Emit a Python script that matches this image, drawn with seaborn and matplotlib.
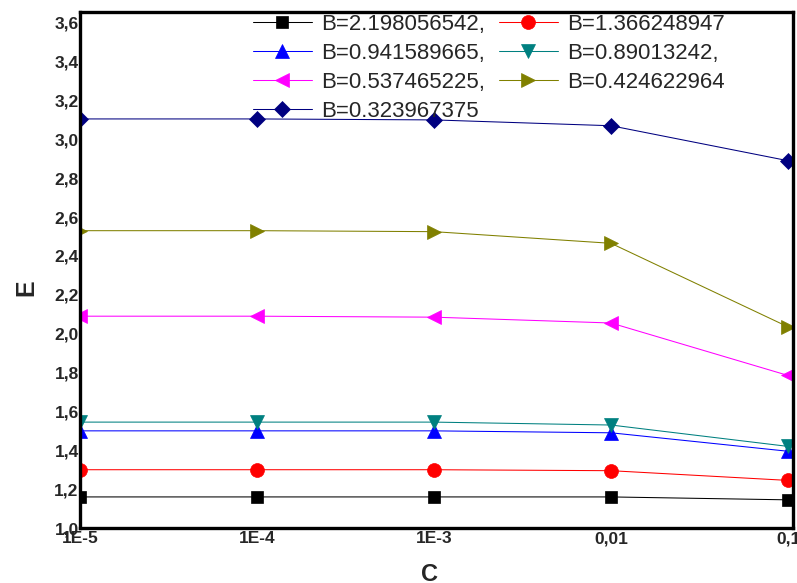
import numpy as np
import pandas as pd
import matplotlib
matplotlib.use("Agg")
import matplotlib.pyplot as plt
import seaborn as sns

# data
c_values = [1e-5, 1e-4, 1e-3, 1e-2, 1e-1]
c_labels = ["1E-5", "1E-4", "1E-3", "0,01", "0,1"]
b_labels = ["B=2.198056542,", "B=1.366248947", "B=0.941589665,", "B=0.89013242,",
            "B=0.537465225,", "B=0.424622964", "B=0.323967375"]
e_b1 = [1.16, 1.16, 1.16, 1.16, 1.145]
e_b2 = [1.30, 1.30, 1.30, 1.295, 1.245]
e_b3 = [1.50, 1.50, 1.50, 1.49, 1.395]
e_b4 = [1.545, 1.545, 1.545, 1.53, 1.42]
e_b5 = [2.09, 2.09, 2.085, 2.055, 1.785]
e_b6 = [2.53, 2.53, 2.525, 2.465, 2.035]
e_b7 = [3.105, 3.105, 3.10, 3.07, 2.89]
series = [e_b1, e_b2, e_b3, e_b4, e_b5, e_b6, e_b7]

colors = ["#000000", "#ff0000", "#0000ff", "#008080", "#ff00ff", "#808000", "#000080"]
markers = ["s", "o", "^", "v", "<", ">", "D"]
msizes = [9, 10, 10, 10, 10, 10, 8.5]

sns.set_style("white")
plt.rcParams["font.family"] = ["Liberation Sans", "DejaVu Sans"]

fig = plt.figure(figsize=(7.97, 5.83), dpi=100)
ax = fig.add_axes([0.1004, 0.0943, 0.8946, 0.8847])

handles = []
for vals, lab, col, mk, ms in zip(series, b_labels, colors, markers, msizes):
    df = pd.DataFrame({"C": c_values, "E": vals})
    sns.lineplot(data=df, x="C", y="E", ax=ax, color=col, marker=mk,
                 markersize=ms, markeredgecolor=col,
                 markeredgewidth=0.5, linewidth=0.75, label=lab)
    handles.append(ax.lines[-1])

ax.set_xscale("log")
ax.set_xlim(1e-5, 0.1067)
ax.set_ylim(1.0, 3.654)
ax.set_xticks(c_values)
ax.set_xticklabels(c_labels)
ax.xaxis.set_minor_locator(matplotlib.ticker.NullLocator())
yt = np.round(np.arange(1.0, 3.61, 0.2), 1)
ax.set_yticks(yt)
ax.set_yticklabels([f"{v:.1f}".replace(".", ",") for v in yt])
ax.tick_params(axis="y", length=0, labelsize=12.5, pad=1)
ax.tick_params(axis="x", length=0, labelsize=12.5, pad=2.5)
for lbl in ax.get_xticklabels() + ax.get_yticklabels():
    lbl.set_fontweight("bold")

for side, sp in ax.spines.items():
    sp.set_color("black")
    sp.set_linewidth(2.4)

ax.set_xlabel("C", fontsize=17, fontweight="bold")
ax.set_ylabel("E", fontsize=18, fontweight="bold")
ax.xaxis.set_label_coords(0.49, -0.068)
ax.yaxis.set_label_coords(-0.058, 0.465)

# legend filled row by row like the original
order = [0, 2, 4, 6, 1, 3, 5]
ax.legend([handles[i] for i in order], [b_labels[i] for i in order],
          ncol=2, loc="upper left", bbox_to_anchor=(0.2426, 0.997), frameon=False,
          fontsize=16, handlelength=2.65, handletextpad=0.43, columnspacing=0.6,
          labelspacing=0.36, borderaxespad=0, borderpad=0)

fig.savefig("out.png", dpi=100)
